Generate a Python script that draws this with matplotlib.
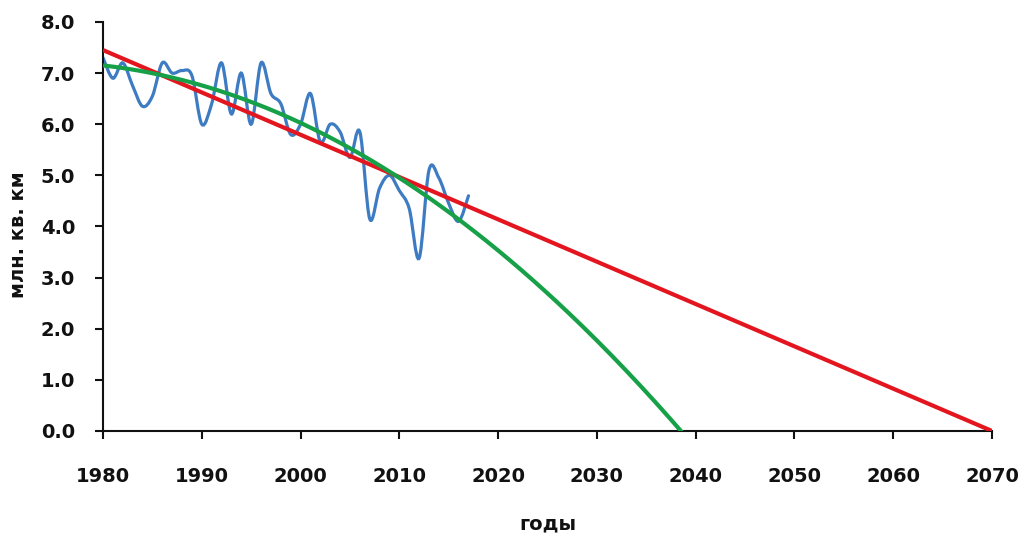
import numpy as np
import matplotlib

matplotlib.use("Agg")
import matplotlib.pyplot as plt
from matplotlib.path import Path
from matplotlib.patches import PathPatch

# September sea-ice extent, million km2
years = list(range(1980, 2018))
extent = [
    7.30, 6.90, 7.20, 6.75, 6.35, 6.55, 7.20, 7.00, 7.05, 6.95,
    6.00, 6.40, 7.20, 6.20, 7.00, 6.00, 7.20, 6.60, 6.40, 5.80,
    6.00, 6.60, 5.65, 6.00, 5.85, 5.35, 5.85, 4.15, 4.75, 5.00,
    4.70, 4.35, 3.38, 5.10, 4.95, 4.45, 4.10, 4.60,
]

# linear trend: value at 1980 and yearly change
lin_start, lin_slope = 7.45, -0.08278
lin_years = [1980, 2070]

# quadratic trend in (year - 1980)
quad_coef = [7.15, -0.02188, -0.001715]
quad_end = 2038.6

x_ticks = list(range(1980, 2071, 10))
y_ticks = [0, 1, 2, 3, 4, 5, 6, 7, 8]

BLUE = "#3d7cc2"
RED = "#e3161f"
GREEN = "#16a047"
INK = "#111111"


def smooth_path(xs, ys):
    """Catmull-Rom curve through the points as cubic Bezier segments."""
    pts = np.column_stack([xs, ys]).astype(float)
    ext = np.vstack([pts[0], pts, pts[-1]])
    verts = [pts[0]]
    codes = [Path.MOVETO]
    for i in range(1, len(ext) - 2):
        p0, p1, p2, p3 = ext[i - 1], ext[i], ext[i + 1], ext[i + 2]
        verts += [p1 + (p2 - p0) / 6.0, p2 - (p3 - p1) / 6.0, p2]
        codes += [Path.CURVE4] * 3
    return Path(verts, codes)


plt.rcParams["font.family"] = ["DejaVu Sans"]
plt.rcParams["font.weight"] = "bold"

fig = plt.figure(figsize=(10.23, 5.40), dpi=100)
ax = fig.add_axes([0.1007, 0.2019, 0.8690, 0.7574])

ax.add_patch(PathPatch(smooth_path(years, extent), fill=False,
                       edgecolor=BLUE, lw=2.3, capstyle="round", zorder=2))

lin_vals = [lin_start + lin_slope * (y - 1980) for y in lin_years]
ax.plot(lin_years, lin_vals, color=RED, lw=3.0, solid_capstyle="butt", zorder=3)

qx = np.linspace(1980, quad_end, 200)
qt = qx - 1980
qy = quad_coef[0] + quad_coef[1] * qt + quad_coef[2] * qt ** 2
ax.plot(qx, qy, color=GREEN, lw=3.0, solid_capstyle="butt", zorder=4)

ax.set_xlim(1980, 2070)
ax.set_ylim(0, 8)
ax.set_xticks(x_ticks)
ax.set_yticks(y_ticks)
ax.set_yticklabels([f"{v:.1f}" for v in y_ticks])

for side in ("top", "right"):
    ax.spines[side].set_visible(False)
for side in ("left", "bottom"):
    ax.spines[side].set_linewidth(1.5)
    ax.spines[side].set_color(INK)
ax.tick_params(axis="both", direction="out", length=6, width=1.5,
               colors=INK, labelsize=14)
ax.tick_params(axis="x", pad=20)
ax.tick_params(axis="y", pad=14)

fig.text(0.5357, 0.030, "годы", ha="center", va="center",
         fontsize=14, fontweight="bold", color=INK)
fig.text(0.018, 0.565, "млн. кв. км", ha="center", va="center",
         rotation=90, fontsize=14, fontweight="bold", color=INK)

fig.savefig("out.png", dpi=100)
